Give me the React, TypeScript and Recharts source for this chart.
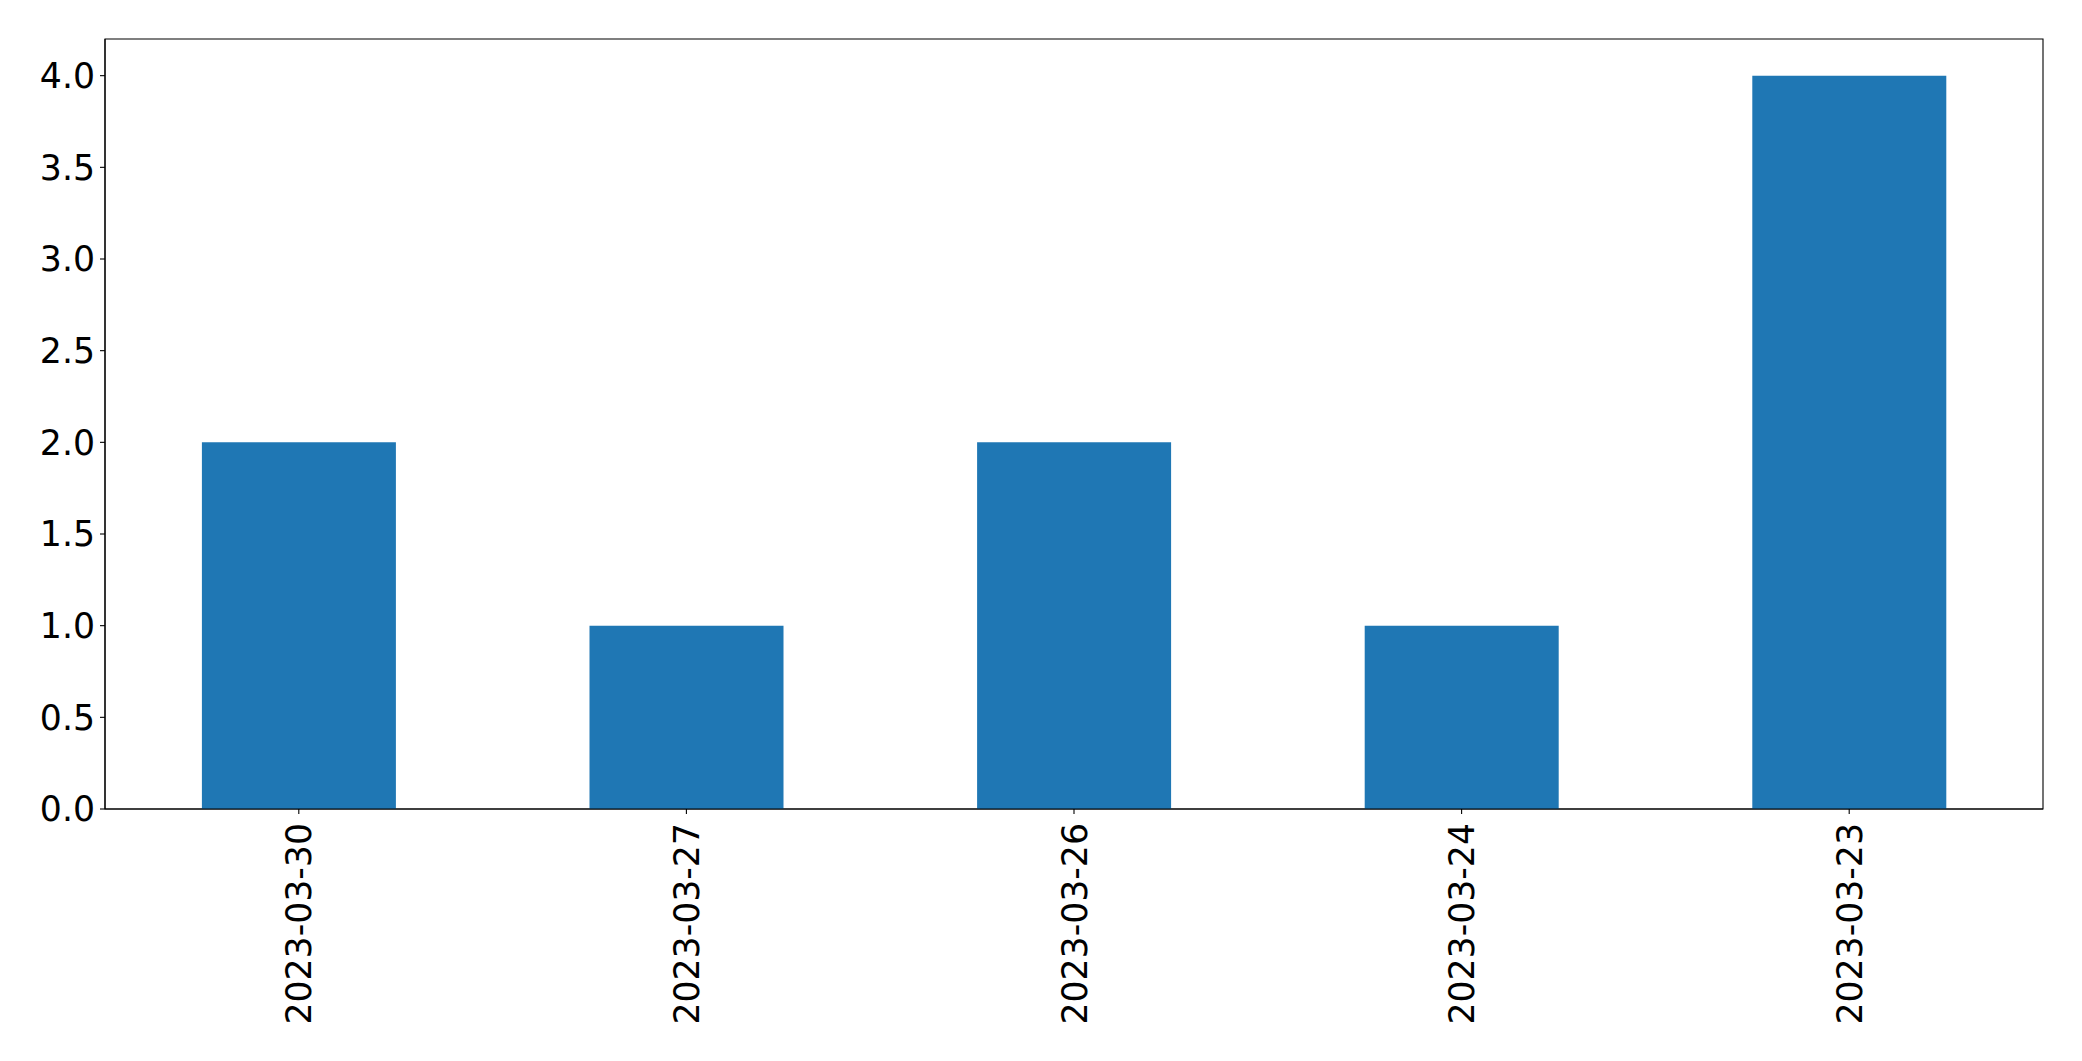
import React from 'react';
import { BarChart, Bar, XAxis, YAxis, ReferenceArea } from 'recharts';

const dates = ['2023-03-30', '2023-03-27', '2023-03-26', '2023-03-24', '2023-03-23'];
const counts = [2, 1, 2, 1, 4];
const yTicks = [0, 0.5, 1, 1.5, 2, 2.5, 3, 3.5, 4];
const yMax = 4.2;

const data = dates.map((d, i) => ({ date: d, count: counts[i] }));

const FONT = 'DejaVu Sans, sans-serif';
const FS = 34.7;

const DateTick = (props: any) => {
  const { x, y, payload } = props;
  return (
    <text
      x={0}
      y={0}
      transform={`translate(${x},${y + 4}) rotate(-90)`}
      textAnchor="end"
      dy="0.36em"
      fill="#000"
      fontFamily={FONT}
      fontSize={FS}
    >
      {payload.value}
    </text>
  );
};

const App: React.FC = () => {
  return (
    <div style={{ position: 'absolute', left: 0, top: 0, background: '#fff' }}>
      <BarChart
        width={2082}
        height={1061}
        data={data}
        margin={{ top: 39, right: 39, bottom: 0, left: 0 }}
        barCategoryGap="25%"
      >
        <XAxis
          dataKey="date"
          height={252}
          interval={0}
          tick={<DateTick />}
          tickSize={5}
          tickMargin={5}
          axisLine={{ stroke: '#000', strokeWidth: 1.1 }}
          tickLine={{ stroke: '#000', strokeWidth: 1.1 }}
        />
        <YAxis
          width={105}
          domain={[0, yMax]}
          ticks={yTicks}
          interval={0}
          tickFormatter={(v: number) => v.toFixed(1)}
          tick={{ fill: '#000', fontFamily: FONT, fontSize: FS }}
          tickSize={5}
          tickMargin={5}
          axisLine={{ stroke: '#000', strokeWidth: 1.1 }}
          tickLine={{ stroke: '#000', strokeWidth: 1.1 }}
        />
        <Bar dataKey="count" fill="#1f77b4" isAnimationActive={false} />
        <ReferenceArea
          y1={0}
          y2={yMax}
          fill="none"
          fillOpacity={0}
          stroke="#000"
          strokeWidth={1.1}
        />
      </BarChart>
    </div>
  );
};

export default App;
